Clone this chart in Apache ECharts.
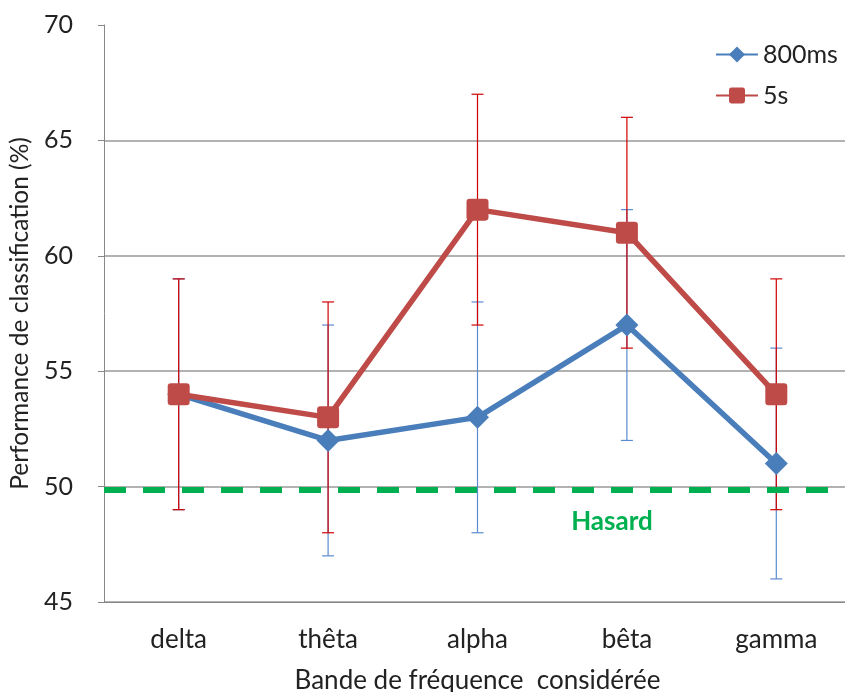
<!DOCTYPE html>
<html>
<head>
<meta charset="utf-8">
<script src="https://cdn.jsdelivr.net/npm/echarts@6/dist/echarts.min.js"></script>
<style>
  html, body { margin: 0; padding: 0; background: #fff; }
  #chart { width: 845px; height: 692px; }
</style>
</head>
<body>
<div id="chart"></div>
<script>
// Frequency bands
const bands = ['delta', 'thêta', 'alpha', 'bêta', 'gamma'];
// Mean classification performance (%)
const perf800ms = [54, 52, 53, 57, 51];
const perf5s = [54, 53, 62, 61, 54];
// Error bar half-widths (%)
const err800ms = [5, 5, 5, 5, 5];
const err5s = [5, 5, 5, 5, 5];
// Chance level
const hasard = 49.87;
const yTicks = { min: 45, max: 70, step: 5 };

const FONT = 'Lato, "Open Sans", sans-serif';
const BLUE = '#4A7EBB';
const RED = '#BE4B48';

function errorData(means, errs) {
  return means.map((m, i) => [i, m - errs[i], m + errs[i]]);
}

function errorBars(color) {
  return function (params, api) {
    const x = api.value(0);
    const lo = api.coord([x, api.value(1)]);
    const hi = api.coord([x, api.value(2)]);
    const half = 6;
    const style = { stroke: color, lineWidth: 1.2 };
    return {
      type: 'group',
      children: [
        { type: 'line', shape: { x1: lo[0], y1: lo[1], x2: hi[0], y2: hi[1] }, style },
        { type: 'line', shape: { x1: hi[0] - half, y1: hi[1], x2: hi[0] + half, y2: hi[1] }, style },
        { type: 'line', shape: { x1: lo[0] - half, y1: lo[1], x2: lo[0] + half, y2: lo[1] }, style }
      ]
    };
  };
}

const chart = echarts.init(document.getElementById('chart'));
chart.setOption({
  animation: false,
  backgroundColor: '#fff',
  grid: { left: 104, top: 25, right: -6, bottom: 90, containLabel: false, outerBoundsMode: 'none' },
  legend: {
    orient: 'vertical',
    left: 710,
    top: 37,
    itemWidth: 42,
    itemHeight: 20,
    itemGap: 16,
    data: ['800ms', '5s'],
    textStyle: { fontFamily: FONT, fontSize: 25, color: '#222' }
  },
  xAxis: {
    type: 'category',
    data: bands,
    name: 'Bande de fréquence  considérée',
    nameLocation: 'middle',
    nameGap: 66,
    nameTextStyle: { fontFamily: FONT, fontSize: 26, color: '#222' },
    axisLine: { lineStyle: { color: '#888', width: 1 } },
    axisTick: { length: 9, lineStyle: { color: '#888' } },
    axisLabel: { margin: 25, fontFamily: FONT, fontSize: 26, color: '#222' },
    splitLine: { show: false }
  },
  yAxis: {
    type: 'value',
    min: yTicks.min,
    max: yTicks.max,
    interval: yTicks.step,
    name: 'Performance de classification (%)',
    nameLocation: 'middle',
    nameGap: 71,
    nameTextStyle: { fontFamily: FONT, fontSize: 24.5, color: '#222' },
    axisLine: { show: true, lineStyle: { color: '#888', width: 1 } },
    axisTick: { show: true, length: 6, lineStyle: { color: '#888' } },
    axisLabel: { margin: 31, fontFamily: FONT, fontSize: 25, color: '#222' },
    splitLine: {
      show: true,
      lineStyle: { color: ['#999', '#999', '#999', '#999', '#999', 'rgba(0,0,0,0)'], width: 1.5 }
    }
  },
  series: [
    {
      name: 'err800',
      type: 'custom',
      renderItem: errorBars('#5B8BD0'),
      data: errorData(perf800ms, err800ms),
      encode: { x: 0, y: [1, 2] },
      z: 1,
      silent: true
    },
    {
      name: 'err5s',
      type: 'custom',
      renderItem: errorBars('#D00000'),
      data: errorData(perf5s, err5s),
      encode: { x: 0, y: [1, 2] },
      z: 2,
      silent: true
    },
    {
      name: '800ms',
      type: 'line',
      data: perf800ms,
      symbol: 'diamond',
      symbolSize: 23,
      lineStyle: { color: BLUE, width: 5.5 },
      itemStyle: { color: BLUE },
      z: 3,
      markLine: {
        silent: true,
        symbol: 'none',
        label: { show: false },
        lineStyle: { color: '#00B050', width: 6, type: [22, 17] },
        data: [{ yAxis: hasard }]
      }
    },
    {
      name: '5s',
      type: 'line',
      data: perf5s,
      symbol: 'path://M3,0 H17 Q20,0 20,3 V17 Q20,20 17,20 H3 Q0,20 0,17 V3 Q0,0 3,0 Z',
      symbolSize: 22,
      lineStyle: { color: RED, width: 5.5 },
      itemStyle: { color: RED },
      z: 4
    }
  ]
});

// "Hasard" caption placed just under the chance line, between alpha and bêta
const capPos = chart.convertToPixel({ xAxisIndex: 0, yAxisIndex: 0 }, [2, hasard]);
const capPos2 = chart.convertToPixel({ xAxisIndex: 0, yAxisIndex: 0 }, [3, hasard]);
chart.setOption({
  graphic: [{
    type: 'text',
    x: capPos[0] + (capPos2[0] - capPos[0]) * 0.9,
    y: capPos[1] + 32,
    style: {
      text: 'Hasard',
      fontFamily: FONT,
      fontSize: 26,
      fontWeight: 'bold',
      fill: '#00B050',
      align: 'center',
      verticalAlign: 'middle'
    }
  }]
});
</script>
</body>
</html>
